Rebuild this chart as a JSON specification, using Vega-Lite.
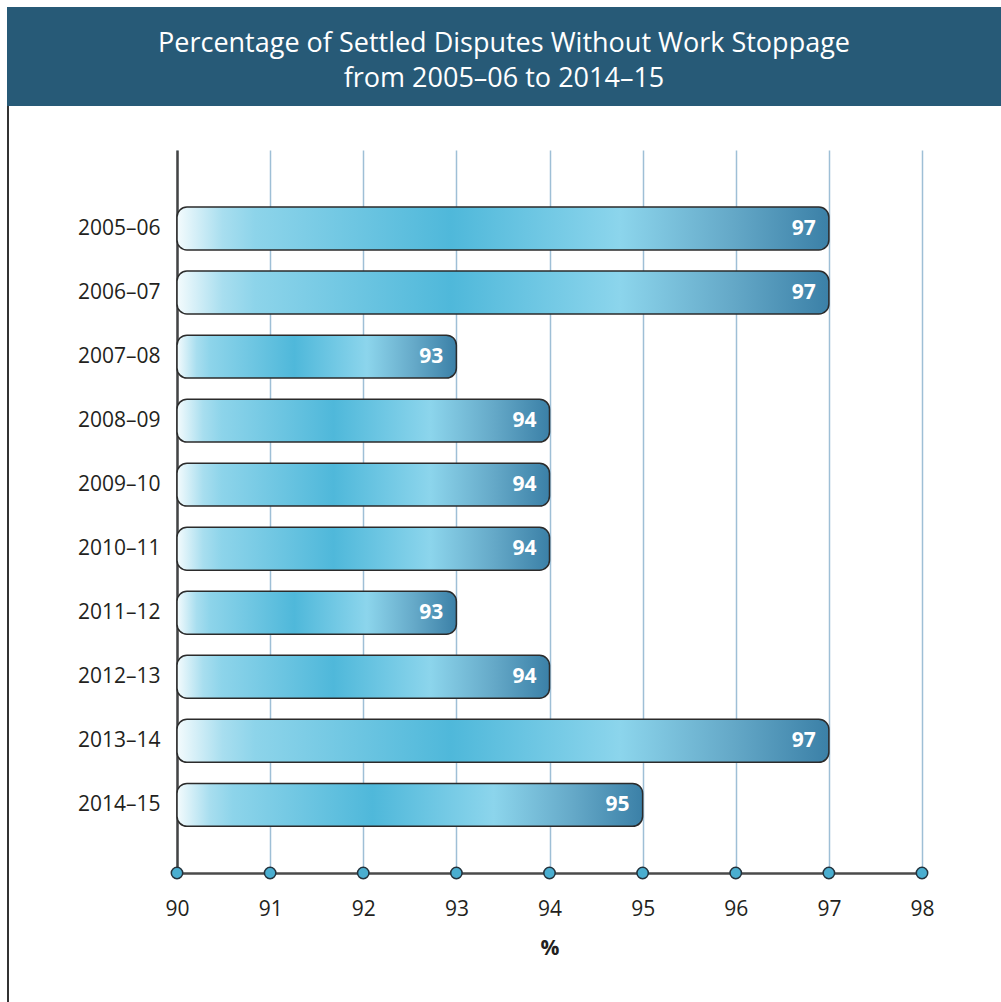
{
  "$schema": "https://vega.github.io/schema/vega-lite/v6.json",
  "padding": {"left": 7, "top": 7, "right": 0, "bottom": 0},
  "background": "white",
  "spacing": 0,
  "config": {
    "view": {"stroke": null},
    "font": "Open Sans",
    "concat": {"spacing": 0}
  },
  "datasets": {
    "bars": [
      {"year": "2005–06", "pct": 97},
      {"year": "2006–07", "pct": 97},
      {"year": "2007–08", "pct": 93},
      {"year": "2008–09", "pct": 94},
      {"year": "2009–10", "pct": 94},
      {"year": "2010–11", "pct": 94},
      {"year": "2011–12", "pct": 93},
      {"year": "2012–13", "pct": 94},
      {"year": "2013–14", "pct": 97},
      {"year": "2014–15", "pct": 95}
    ],
    "ticks": [
      {"v": 90}, {"v": 91}, {"v": 92}, {"v": 93}, {"v": 94},
      {"v": 95}, {"v": 96}, {"v": 97}, {"v": 98}
    ],
    "titles": [
      {"row": 1, "t": "Percentage of Settled Disputes Without Work Stoppage"},
      {"row": 2, "t": "from 2005–06 to 2014–15"}
    ]
  },
  "vconcat": [
    {
      "width": 994,
      "height": 99,
      "view": {"fill": "#275A77", "stroke": null},
      "data": {"name": "titles"},
      "mark": {
        "type": "text",
        "align": "center",
        "baseline": "middle",
        "fill": "white",
        "fontSize": 27,
        "font": "Open Sans"
      },
      "encoding": {
        "x": {"datum": 0.5, "type": "quantitative", "scale": {"domain": [0, 1]}, "axis": null},
        "y": {"field": "row", "type": "ordinal", "scale": {"type": "point", "padding": 0.914, "align": 0.58}, "axis": null},
        "text": {"field": "t", "type": "nominal"}
      }
    },
    {
      "spacing": 0,
      "hconcat": [
        {
          "width": 2,
          "height": 896,
          "view": {"fill": "#333333", "stroke": null},
          "data": {"values": []},
          "mark": "point"
        },
        {
          "spacing": 0,
          "vconcat": [
            {
              "width": 1,
              "height": 44,
              "data": {"values": []},
              "mark": "point"
            },
            {
              "width": 745,
              "height": 723,
              "layer": [
                {
                  "data": {"name": "bars"},
                  "layer": [
                    {
                      "mark": {
                        "type": "bar",
                        "fill": {
                          "gradient": "linear",
                          "x1": 0, "y1": 0, "x2": 1, "y2": 0,
                          "stops": [
                            {"offset": 0, "color": "#F4FBFD"},
                            {"offset": 0.07, "color": "#A8DEEF"},
                            {"offset": 0.12, "color": "#8DD4EA"},
                            {"offset": 0.42, "color": "#4FB8DA"},
                            {"offset": 0.68, "color": "#8CD5EC"},
                            {"offset": 0.85, "color": "#65A9C8"},
                            {"offset": 1, "color": "#3B80A7"}
                          ]
                        },
                        "stroke": "#2b2b2b",
                        "strokeWidth": 1.5,
                        "cornerRadiusEnd": 10
                      },
                      "encoding": {
                        "y": {
                          "field": "year",
                          "type": "nominal",
                          "sort": null,
                          "scale": {"paddingInner": 0.33, "paddingOuter": 0.81, "align": 0.55},
                          "axis": {
                            "title": null,
                            "ticks": false,
                            "domain": true,
                            "domainColor": "#444444",
                            "domainWidth": 2.5,
                            "labelFontSize": 21,
                            "labelColor": "#231f20",
                            "labelPadding": 17,
                            "minExtent": 168,
                            "maxExtent": 168
                          }
                        },
                        "x": {
                          "field": "pct",
                          "type": "quantitative",
                          "scale": {"domain": [90, 98], "nice": false, "zero": false},
                          "axis": {
                            "values": [90, 91, 92, 93, 94, 95, 96, 97, 98],
                            "format": "d",
                            "labelFlush": false,
                            "title": "%",
                            "grid": true,
                            "gridColor": "#9EBFD6",
                            "gridWidth": 1.5,
                            "ticks": false,
                            "domainColor": "#4a4a4a",
                            "domainWidth": 2.5,
                            "labelFontSize": 21,
                            "labelColor": "#231f20",
                            "labelPadding": 25,
                            "titleFontSize": 21,
                            "titleFontWeight": "bold",
                            "titleColor": "#231f20",
                            "titlePadding": 18
                          }
                        },
                        "x2": {"datum": 90}
                      }
                    },
                    {
                      "mark": {
                        "type": "text",
                        "align": "right",
                        "baseline": "middle",
                        "dx": -13,
                        "fill": "white",
                        "fontWeight": "bold",
                        "fontSize": 21
                      },
                      "encoding": {
                        "y": {"field": "year", "type": "nominal", "sort": null},
                        "x": {"field": "pct", "type": "quantitative"},
                        "text": {"field": "pct", "type": "quantitative"}
                      }
                    }
                  ]
                },
                {
                  "data": {"name": "ticks"},
                  "mark": {
                    "type": "point",
                    "filled": true,
                    "fill": "#4AAED0",
                    "stroke": "#24323c",
                    "strokeWidth": 1.5,
                    "size": 130,
                    "opacity": 1
                  },
                  "encoding": {
                    "x": {"field": "v", "type": "quantitative"},
                    "y": {
                      "datum": 0,
                      "type": "quantitative",
                      "scale": {"domain": [0, 1]},
                      "axis": null
                    }
                  }
                }
              ],
              "resolve": {"scale": {"y": "independent"}}
            }
          ]
        }
      ]
    }
  ]
}
